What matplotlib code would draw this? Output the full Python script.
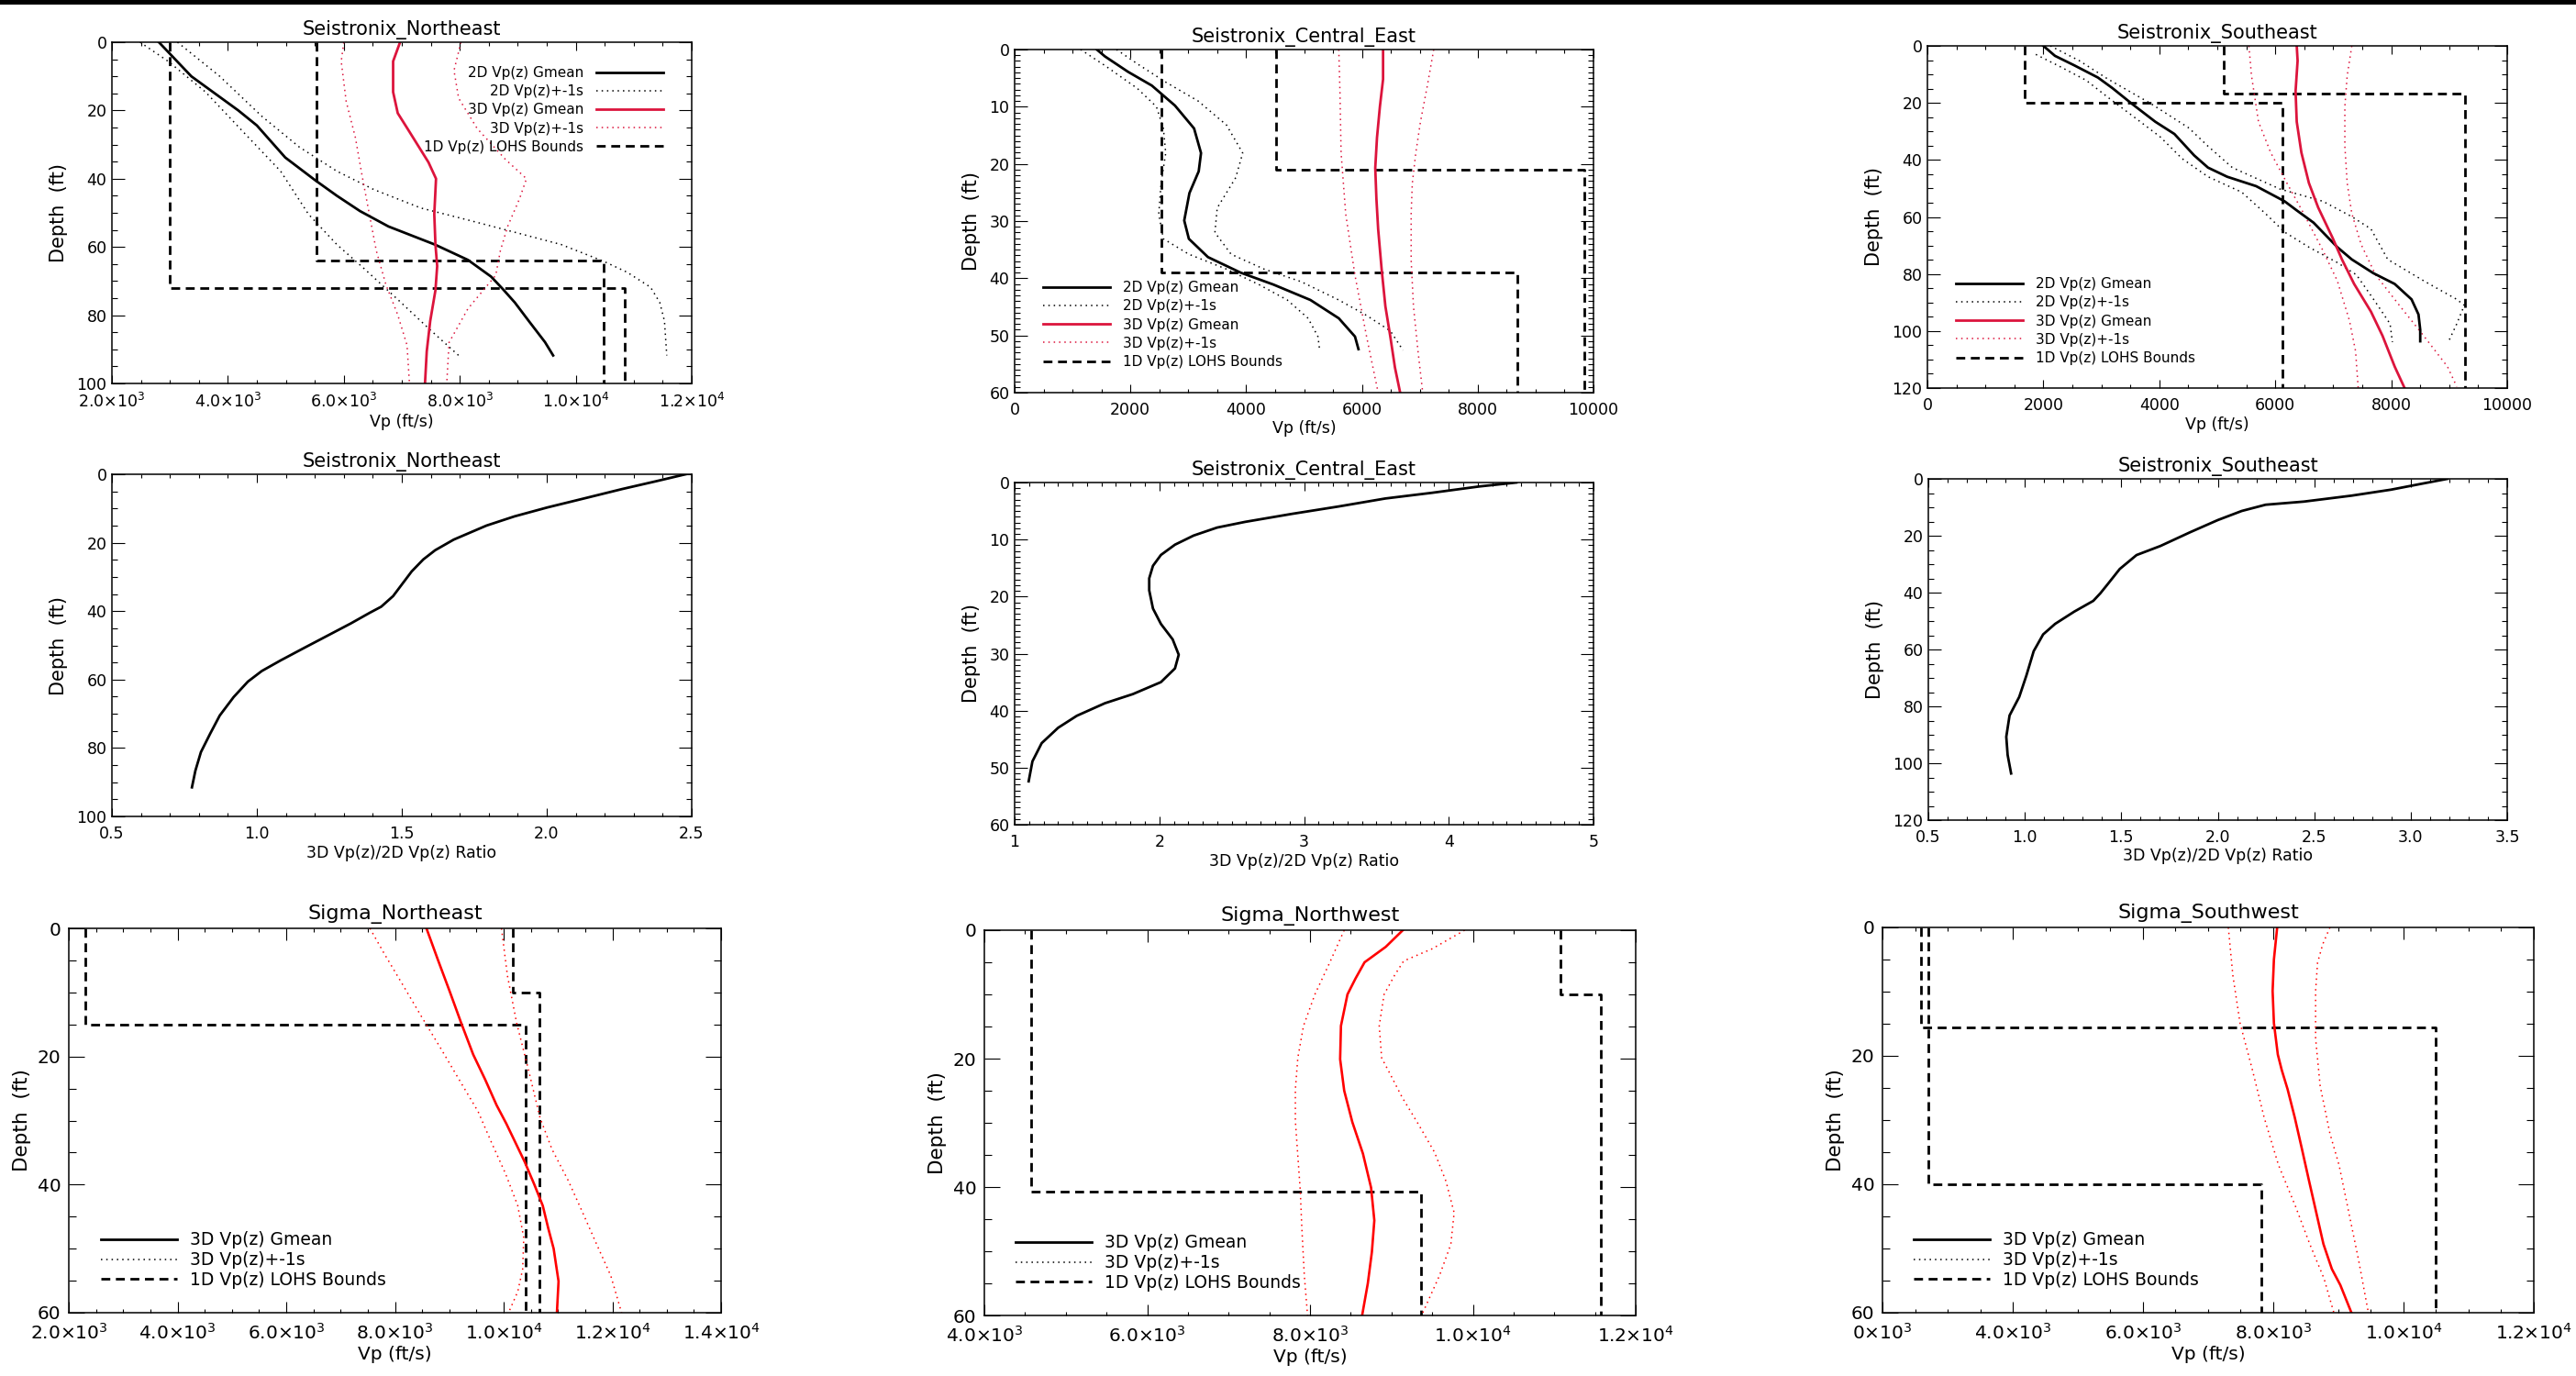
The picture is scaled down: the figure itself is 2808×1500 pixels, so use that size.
import numpy as np
import matplotlib
matplotlib.use('Agg')
import matplotlib.pyplot as plt
from matplotlib.lines import Line2D
from matplotlib.patches import Rectangle
from matplotlib.ticker import MultipleLocator, FuncFormatter, FixedLocator, FixedFormatter

plt.rcParams['font.family'] = ['DejaVu Sans']
plt.rcParams['font.weight'] = 'normal'
plt.rcParams['mathtext.default'] = 'regular'
plt.rcParams['axes.linewidth'] = 1.0

W, H = 2808, 1500
CRIMSON = '#dc143c'
RED = '#ff0000'

# ---------------- Seistronix_Northeast (Vp) ----------------
ne_2d_z = [0, 10, 20, 24.4, 33.8, 40.5, 45, 49.5, 54, 59.3, 63.8, 68.7, 72.3, 76.3, 81.7, 87.9, 91.8]
ne_2d_v = [2810, 3370, 4180, 4500, 4990, 5510, 5880, 6280, 6770, 7570, 8140, 8540, 8740, 8950, 9190, 9470, 9610]
ne_2d_lo_z = [0, 5.6, 14.6, 26.2, 37.8, 50.4, 59.3, 66.5, 75.4, 84.3, 91.8]
ne_2d_lo_v = [2485, 2970, 3615, 4260, 4910, 5390, 5880, 6360, 6930, 7490, 7980]
ne_2d_hi_z = [0, 10, 21.7, 30.7, 37.8, 43.2, 48.6, 52.1, 55.7, 59.3, 64.2, 67.4, 71.8, 76.3, 81.7, 91.8]
ne_2d_hi_v = [3130, 3860, 4585, 5230, 5880, 6520, 7330, 8140, 8950, 9750, 10480, 10885, 11290, 11450, 11530, 11570]
ne_3d_z = [0, 5.6, 14.6, 20.8, 26.2, 35.2, 40, 50.4, 59.3, 65.6, 72.7, 81.7, 90.6, 100]
ne_3d_v = [6970, 6850, 6850, 6930, 7130, 7460, 7590, 7560, 7580, 7610, 7580, 7490, 7430, 7400]
ne_3d_lo_z = [0, 5.6, 17.3, 28, 39.6, 50.4, 61.1, 71, 79.9, 88.8, 99.5]
ne_3d_lo_v = [6000, 5955, 6040, 6200, 6320, 6440, 6560, 6725, 6930, 7090, 7130]
ne_3d_hi_z = [0, 8.3, 16.4, 25.3, 34.3, 40, 45.9, 54, 61.1, 68.3, 78.1, 88, 100]
ne_3d_hi_v = [8020, 7900, 7980, 8300, 8785, 9150, 9030, 8825, 8700, 8620, 8140, 7815, 7775]
ne_lohs_a_v, ne_lohs_a_z = [3000, 10850], 72
ne_lohs_b_v, ne_lohs_b_z = [5530, 10480], 64

# ---------------- Seistronix_Central_East (Vp) ----------------
ce_2d_z = [0, 1.2, 3.9, 6.3, 9.8, 13.8, 18.1, 21.3, 25.1, 29.9, 33.1, 36.3, 39, 41.1, 43.8, 47, 50.2, 52.4]
ce_2d_v = [1420, 1560, 1960, 2370, 2770, 3100, 3220, 3180, 3020, 2930, 3010, 3340, 3900, 4470, 5110, 5600, 5880, 5940]
ce_2d_lo_z = [0, 2.8, 6.8, 10, 13.8, 18.1, 23.4, 28.8, 33.1, 35.8, 38.4, 41.1, 43.8, 47, 50.2, 52.6]
ce_2d_lo_v = [1140, 1560, 2120, 2450, 2570, 2610, 2530, 2490, 2570, 3010, 3660, 4220, 4710, 5070, 5240, 5270]
ce_2d_hi_z = [0, 2.5, 5.7, 9, 13.2, 18.1, 22.4, 27.7, 32, 35.8, 38.4, 40.6, 43.8, 46.5, 49.2, 52.6]
ce_2d_hi_v = [1760, 2120, 2610, 3170, 3660, 3940, 3820, 3500, 3460, 3740, 4310, 4950, 5600, 6080, 6490, 6710]
ce_3d_z = [0, 5.2, 10, 15.4, 20.7, 26.1, 31.4, 38.4, 44.9, 50.2, 55.6, 60]
ce_3d_v = [6365, 6365, 6310, 6260, 6230, 6250, 6280, 6340, 6405, 6490, 6570, 6660]
ce_3d_lo_z = [0, 7.3, 18.1, 28.8, 39.5, 50.2, 60]
ce_3d_lo_v = [5600, 5620, 5640, 5720, 5880, 6080, 6280]
ce_3d_hi_z = [0, 6.3, 12.7, 18.1, 23.4, 28.8, 36.8, 44.9, 52.9, 60]
ce_3d_hi_v = [7240, 7130, 7010, 6930, 6870, 6850, 6850, 6890, 6970, 7050]
ce_lohs_a_v, ce_lohs_a_z = [2530, 8680], 39
ce_lohs_b_v, ce_lohs_b_z = [4515, 9840], 21

# ---------------- Seistronix_Southeast (Vp) ----------------
se_2d_z = [0, 3.5, 6.8, 11.1, 14.8, 20.2, 26.6, 30.9, 38.4, 42.7, 45.9, 49.2, 54.5, 57.7, 62, 70.6, 74.9, 79.7, 83.5, 88.9, 94.2, 99.6, 103.6]
se_2d_v = [2000, 2200, 2530, 2940, 3190, 3520, 3930, 4260, 4600, 4840, 5170, 5670, 6160, 6370, 6660, 7070, 7320, 7690, 8060, 8350, 8470, 8500, 8500]
se_2d_lo_z = [3, 7.3, 12.1, 18, 25.5, 32, 39.5, 45.9, 51.3, 58.8, 65.3, 70.6, 76, 80.3, 89.9, 97.5, 103.9]
se_2d_lo_v = [1870, 2290, 2740, 3110, 3600, 4020, 4390, 4840, 5420, 5830, 6160, 6580, 7070, 7400, 7730, 7980, 8020]
se_2d_hi_z = [0, 5.2, 11.6, 20.2, 28.8, 35.2, 42.7, 50.2, 54.5, 59.9, 64.2, 74.9, 82.4, 88.9, 91, 97.5, 103.6]
se_2d_hi_v = [2120, 2620, 3110, 3850, 4510, 4840, 5260, 6080, 6820, 7320, 7650, 7940, 8560, 9130, 9260, 9130, 8990]
se_3d_z = [0, 5.2, 15.9, 26.6, 37.4, 48.1, 56.7, 67.4, 74.9, 83.5, 93.2, 101.7, 112.5, 120]
se_3d_v = [6370, 6385, 6350, 6370, 6450, 6580, 6740, 6990, 7150, 7360, 7650, 7850, 8060, 8230]
se_3d_lo_z = [0, 10.5, 26.6, 37.4, 48.1, 58.8, 71.7, 82.4, 96.4, 107.1, 120]
se_3d_lo_v = [5545, 5590, 5710, 5920, 6200, 6490, 6820, 7070, 7280, 7385, 7430]
se_3d_hi_z = [0, 10.5, 21.3, 35.2, 48.1, 58.8, 69.6, 80.3, 91, 101.7, 112.5, 119.5]
se_3d_hi_v = [7320, 7240, 7200, 7200, 7240, 7320, 7480, 7730, 8140, 8560, 8970, 9130]
se_lohs_a_v, se_lohs_a_z = [1670, 6120], 20
se_lohs_b_v, se_lohs_b_z = [5115, 9280], 16.7

# ---------------- 3D/2D ratio curves ----------------
ne_ratio_z = [0, 2.1, 4.3, 7, 9.7, 12.3, 15, 19.1, 22.2, 24.9, 28.4, 32, 35.6, 38.7, 40.5, 43.6, 47.2, 50.8, 54.4, 57.5, 60.6, 65.1, 70.5, 75.8, 81.2, 86.6, 91.5]
ne_ratio = [2.479, 2.374, 2.261, 2.132, 2.002, 1.889, 1.792, 1.679, 1.615, 1.574, 1.534, 1.502, 1.470, 1.429, 1.389, 1.324, 1.243, 1.162, 1.082, 1.017, 0.969, 0.920, 0.872, 0.839, 0.807, 0.788, 0.776]
ce_ratio_z = [0, 0.7, 1.8, 2.8, 4.2, 5.5, 6.9, 7.9, 9.3, 10.9, 12.7, 14.6, 16.8, 18.9, 22.1, 24.8, 27.5, 30.2, 32.6, 35, 37.1, 38.7, 40.9, 43, 45.7, 48.9, 52.4]
ce_ratio = [4.467, 4.208, 3.885, 3.562, 3.239, 2.916, 2.593, 2.399, 2.237, 2.108, 2.011, 1.956, 1.930, 1.930, 1.956, 2.011, 2.092, 2.134, 2.108, 2.011, 1.817, 1.624, 1.430, 1.301, 1.187, 1.123, 1.097]
se_ratio_z = [0, 1.6, 3.8, 5.9, 8, 9.1, 11.3, 14.5, 18.8, 23.6, 26.8, 31.7, 37, 40.2, 42.9, 46.7, 51, 54.7, 60.6, 69.2, 76.7, 83.2, 90.7, 97.1, 103.6]
se_ratio = [3.190, 3.066, 2.898, 2.694, 2.446, 2.248, 2.124, 2.000, 1.856, 1.703, 1.579, 1.492, 1.430, 1.392, 1.355, 1.256, 1.157, 1.095, 1.046, 1.008, 0.971, 0.921, 0.904, 0.911, 0.929]

# ---------------- Sigma_Northeast ----------------
sne_3d_z = [0, 4.9, 9.9, 14.8, 19.7, 23.6, 27.6, 30.5, 33.5, 36.5, 39.9, 43.3, 46.8, 50, 55.1, 60]
sne_3d_v = [8580, 8790, 9010, 9220, 9440, 9660, 9870, 10050, 10220, 10390, 10560, 10720, 10820, 10920, 11010, 10980]
sne_lo_z = [0, 3.9, 8.9, 13.8, 18.7, 23.6, 28.6, 33.5, 38.4, 43.3, 48.3, 53.2, 56.7, 60]
sne_lo_v = [7540, 7800, 8150, 8490, 8840, 9180, 9530, 9780, 10040, 10260, 10370, 10350, 10260, 10090]
sne_hi_z = [0, 7.4, 14.8, 22.2, 29.6, 34.5, 39.4, 44.3, 49.3, 54.2, 60]
sne_hi_v = [9960, 10070, 10240, 10460, 10670, 10890, 11190, 11450, 11710, 11970, 12170]
sne_lohs_a_v, sne_lohs_a_z = [2310, 10410], 15
sne_lohs_b_v, sne_lohs_b_z = [10170, 10660], 10

# ---------------- Sigma_Northwest ----------------
snw_3d_z = [0, 2.6, 5, 7.5, 10, 14.9, 20.1, 25, 29.9, 34.8, 40.1, 45.2, 50.1, 55, 60]
snw_3d_v = [9140, 8930, 8670, 8560, 8460, 8380, 8370, 8420, 8520, 8650, 8750, 8790, 8760, 8710, 8640]
snw_lo_z = [0, 5.1, 10, 14.9, 19.9, 24.8, 29.7, 35.1, 40.5, 46.5, 53.8, 60]
snw_lo_v = [8420, 8240, 8060, 7920, 7850, 7820, 7820, 7850, 7880, 7900, 7930, 7970]
snw_hi_z = [0, 2.9, 4.8, 7, 10, 14.9, 19.9, 22.3, 26, 30.2, 34.6, 39.1, 44, 48.9, 53.8, 60]
snw_hi_v = [9900, 9500, 9150, 9040, 8910, 8850, 8880, 8980, 9130, 9330, 9530, 9670, 9770, 9730, 9590, 9370]
snw_lohs_a_v, snw_lohs_a_z = [4575, 9360], 40.7
snw_lohs_b_v, snw_lohs_b_z = [11080, 11570], 10

# ---------------- Sigma_Southwest ----------------
ssw_3d_z = [0, 5, 9.9, 14.9, 19.8, 22.2, 25.2, 29.6, 34.5, 39.5, 44.4, 49.3, 53.2, 55.7, 60]
ssw_3d_v = [8060, 8010, 7990, 8010, 8070, 8130, 8220, 8330, 8440, 8550, 8660, 8770, 8900, 9030, 9200]
ssw_lo_z = [0, 7.5, 14.9, 22.2, 29.6, 37, 43.4, 49.3, 54.7, 60]
ssw_lo_v = [7310, 7380, 7490, 7680, 7860, 8080, 8340, 8560, 8780, 8930]
ssw_hi_z = [0, 2.6, 5.5, 9.9, 17.3, 24.7, 32.1, 37, 44.4, 51.8, 60]
ssw_hi_v = [8870, 8760, 8680, 8650, 8650, 8720, 8870, 9010, 9160, 9310, 9460]
ssw_lohs_a_v, ssw_lohs_a_z = [2590, 10490], 15.5
ssw_lohs_b_v, ssw_lohs_b_z = [2700, 7810], 40
ssw_xticklabels = ['0×10$^{3}$', '4.0×10$^{3}$', '6.0×10$^{3}$', '8.0×10$^{3}$', '1.0×10$^{4}$', '1.2×10$^{4}$']

legend_labels_2d = ['2D Vp(z) Gmean', '2D Vp(z)+-1s', '3D Vp(z) Gmean', '3D Vp(z)+-1s', '1D Vp(z) LOHS Bounds']
legend_labels_3d = ['3D Vp(z) Gmean', '3D Vp(z)+-1s', '1D Vp(z) LOHS Bounds']

# ---------------- figure ----------------
fig = plt.figure(figsize=(W / 100, H / 100), dpi=100)
fig.add_artist(Rectangle((0, 1 - 5 / H), 1, 5 / H, transform=fig.transFigure,
                         facecolor='black', edgecolor='none'))

DOT = (0, (1, 2.8))
DASH = (0, (3.5, 2.2))
DOT_LW = 1.1

TICK_FS_TOP = 12.5
TICK_FS_BOT = 14.5


def add_ax(L, T, R, B):
    return fig.add_axes([L / W, 1 - B / H, (R - L) / W, (B - T) / H])


def sci_fmt(v, pos=None):
    if v <= 0:
        return '0'
    e = int(np.floor(np.log10(v) + 1e-9))
    m = v / 10 ** e
    return f'{m:.1f}×10$^{{{e}}}$'


def style(ax, xlim, ylim, xmaj, xmin, ymaj, ymin, fs_tick, xfmt=None):
    ax.set_xlim(*xlim)
    ax.set_ylim(ylim[1], ylim[0])
    ax.xaxis.set_major_locator(MultipleLocator(xmaj))
    ax.xaxis.set_minor_locator(MultipleLocator(xmin))
    ax.yaxis.set_major_locator(MultipleLocator(ymaj))
    ax.yaxis.set_minor_locator(MultipleLocator(ymin))
    if xfmt is not None:
        ax.xaxis.set_major_formatter(xfmt)
    ax.tick_params(which='both', direction='in', top=True, right=True, width=0.8,
                   labelsize=fs_tick)
    ax.tick_params(axis='x', which='major', length=6.5, pad=7)
    ax.tick_params(axis='x', which='minor', length=3)
    ax.tick_params(axis='y', which='major', length=10, pad=4)
    ax.tick_params(axis='y', which='minor', length=4.5)
    for sp in ax.spines.values():
        sp.set_linewidth(1.1)


def lohs(ax, v, zi, zmax):
    ax.plot(np.repeat(v, 2), [0, zi, zi, zmax], color='black', lw=2.0, ls=DASH)


def legend(ax, handles, labels, loc, anchor, fs, hl, tp, ls, markerfirst=True):
    ax.legend(handles, labels, loc=loc, bbox_to_anchor=anchor, frameon=False,
              fontsize=fs, handlelength=hl, handletextpad=tp, labelspacing=ls,
              borderpad=0, borderaxespad=0, markerfirst=markerfirst)


def seis_panel(box, title, d, lohs_a, lohs_b, xlim, ylim, ymin, xfmt, leg_loc, leg_anchor, markerfirst):
    ax = add_ax(*box)
    (z2, v2), (z2l, v2l), (z2h, v2h), (z3, v3), (z3l, v3l), (z3h, v3h) = d
    lohs(ax, lohs_a[0], lohs_a[1], ylim[1])
    lohs(ax, lohs_b[0], lohs_b[1], ylim[1])
    ax.plot(v2l, z2l, color='black', lw=DOT_LW, ls=DOT)
    ax.plot(v2h, z2h, color='black', lw=DOT_LW, ls=DOT)
    ax.plot(v3l, z3l, color=CRIMSON, lw=DOT_LW, ls=DOT)
    ax.plot(v3h, z3h, color=CRIMSON, lw=DOT_LW, ls=DOT)
    ax.plot(v2, z2, color='black', lw=2.0)
    ax.plot(v3, z3, color=CRIMSON, lw=2.0)
    style(ax, xlim, ylim, 2000, 500, 20 if ylim[1] != 60 else 10, ymin, TICK_FS_TOP, xfmt)
    ax.set_title(title, fontsize=15, pad=6)
    ax.set_xlabel('Vp (ft/s)', fontsize=12.5, labelpad=2)
    ax.set_ylabel('Depth  (ft)', fontsize=15, labelpad=7)
    handles = [Line2D([], [], color='black', lw=2.0),
               Line2D([], [], color='black', lw=DOT_LW, ls=DOT),
               Line2D([], [], color=CRIMSON, lw=2.0),
               Line2D([], [], color=CRIMSON, lw=DOT_LW, ls=DOT),
               Line2D([], [], color='black', lw=2.0, ls=DASH)]
    legend(ax, handles, legend_labels_2d, leg_loc, leg_anchor, 11, 4.8, 0.9, 0.34, markerfirst)
    return ax


def ratio_panel(box, title, z, r, xlim, ylim, xmaj, xmin, ymaj, ymin, xfmt):
    ax = add_ax(*box)
    ax.plot(r, z, color='black', lw=2.0)
    style(ax, xlim, ylim, xmaj, xmin, ymaj, ymin, TICK_FS_TOP, xfmt)
    ax.set_title(title, fontsize=15, pad=6)
    ax.set_xlabel('3D Vp(z)/2D Vp(z) Ratio', fontsize=12.5, labelpad=2)
    ax.set_ylabel('Depth  (ft)', fontsize=15, labelpad=7)
    return ax


def sigma_panel(box, title, d, lohs_a, lohs_b, xlim, leg_anchor, xlabels=None):
    ax = add_ax(*box)
    (z3, v3), (zl, vl), (zh, vh) = d
    lohs(ax, lohs_a[0], lohs_a[1], 60)
    lohs(ax, lohs_b[0], lohs_b[1], 60)
    ax.plot(vl, zl, color=RED, lw=DOT_LW, ls=DOT)
    ax.plot(vh, zh, color=RED, lw=DOT_LW, ls=DOT)
    ax.plot(v3, z3, color=RED, lw=1.9)
    style(ax, xlim, (0, 60), 2000, 500, 20, 5, TICK_FS_BOT, FuncFormatter(sci_fmt))
    if xlabels is not None:
        ax.xaxis.set_major_locator(FixedLocator(np.arange(xlim[0], xlim[1] + 1, 2000)))
        ax.xaxis.set_major_formatter(FixedFormatter(xlabels))
    ax.tick_params(axis='x', which='major', length=9, pad=8)
    ax.tick_params(axis='y', which='major', length=12, pad=6)
    ax.tick_params(axis='y', which='minor', length=6)
    ax.set_title(title, fontsize=16, pad=7)
    ax.set_xlabel('Vp (ft/s)', fontsize=14.5, labelpad=2)
    ax.set_ylabel('Depth  (ft)', fontsize=15.5, labelpad=5)
    handles = [Line2D([], [], color='black', lw=2.0),
               Line2D([], [], color='black', lw=DOT_LW, ls=DOT),
               Line2D([], [], color='black', lw=2.0, ls=DASH)]
    legend(ax, handles, legend_labels_3d, 'lower left', leg_anchor, 13.5, 4.4, 0.75, 0.15)
    return ax


plain_fmt = FuncFormatter(lambda v, p: f'{v:.0f}')
one_dec = FuncFormatter(lambda v, p: f'{v:.1f}')

# Row 1
seis_panel((122, 46, 754, 418), 'Seistronix_Northeast',
           [(ne_2d_z, ne_2d_v), (ne_2d_lo_z, ne_2d_lo_v), (ne_2d_hi_z, ne_2d_hi_v),
            (ne_3d_z, ne_3d_v), (ne_3d_lo_z, ne_3d_lo_v), (ne_3d_hi_z, ne_3d_hi_v)],
           (ne_lohs_a_v, ne_lohs_a_z), (ne_lohs_b_v, ne_lohs_b_z),
           (2000, 12000), (0, 100), 5, FuncFormatter(sci_fmt),
           'upper right', (1 - 31 / 632, 1 - 26 / 372), False)
seis_panel((1106, 54, 1737, 428), 'Seistronix_Central_East',
           [(ce_2d_z, ce_2d_v), (ce_2d_lo_z, ce_2d_lo_v), (ce_2d_hi_z, ce_2d_hi_v),
            (ce_3d_z, ce_3d_v), (ce_3d_lo_z, ce_3d_lo_v), (ce_3d_hi_z, ce_3d_hi_v)],
           (ce_lohs_a_v, ce_lohs_a_z), (ce_lohs_b_v, ce_lohs_b_z),
           (0, 10000), (0, 60), 1, plain_fmt,
           'lower left', (31 / 631, 26 / 374), True)
seis_panel((2101, 50, 2733, 423), 'Seistronix_Southeast',
           [(se_2d_z, se_2d_v), (se_2d_lo_z, se_2d_lo_v), (se_2d_hi_z, se_2d_hi_v),
            (se_3d_z, se_3d_v), (se_3d_lo_z, se_3d_lo_v), (se_3d_hi_z, se_3d_hi_v)],
           (se_lohs_a_v, se_lohs_a_z), (se_lohs_b_v, se_lohs_b_z),
           (0, 10000), (0, 120), 5, plain_fmt,
           'lower left', (31 / 632, 25 / 373), True)

# Row 2
ratio_panel((122, 517, 754, 890), 'Seistronix_Northeast', ne_ratio_z, ne_ratio,
            (0.5, 2.5), (0, 100), 0.5, 0.1, 20, 5, one_dec)
ratio_panel((1106, 526, 1737, 899), 'Seistronix_Central_East', ce_ratio_z, ce_ratio,
            (1, 5), (0, 60), 1, 0.1, 10, 1, plain_fmt)
ratio_panel((2102, 522, 2733, 894), 'Seistronix_Southeast', se_ratio_z, se_ratio,
            (0.5, 3.5), (0, 120), 0.5, 0.1, 20, 5, one_dec)

# Row 3
sigma_panel((75, 1012, 786, 1431), 'Sigma_Northeast',
            [(sne_3d_z, sne_3d_v), (sne_lo_z, sne_lo_v), (sne_hi_z, sne_hi_v)],
            (sne_lohs_a_v, sne_lohs_a_z), (sne_lohs_b_v, sne_lohs_b_z),
            (2000, 14000), (35 / 711, 26 / 419))
sigma_panel((1073, 1014, 1783, 1434), 'Sigma_Northwest',
            [(snw_3d_z, snw_3d_v), (snw_lo_z, snw_lo_v), (snw_hi_z, snw_hi_v)],
            (snw_lohs_a_v, snw_lohs_a_z), (snw_lohs_b_v, snw_lohs_b_z),
            (4000, 12000), (34 / 710, 26 / 420))
sigma_panel((2052, 1011, 2762, 1431), 'Sigma_Southwest',
            [(ssw_3d_z, ssw_3d_v), (ssw_lo_z, ssw_lo_v), (ssw_hi_z, ssw_hi_v)],
            (ssw_lohs_a_v, ssw_lohs_a_z), (ssw_lohs_b_v, ssw_lohs_b_z),
            (2000, 12000), (34 / 710, 26 / 420), ssw_xticklabels)

fig.savefig('out.png', dpi=100)
